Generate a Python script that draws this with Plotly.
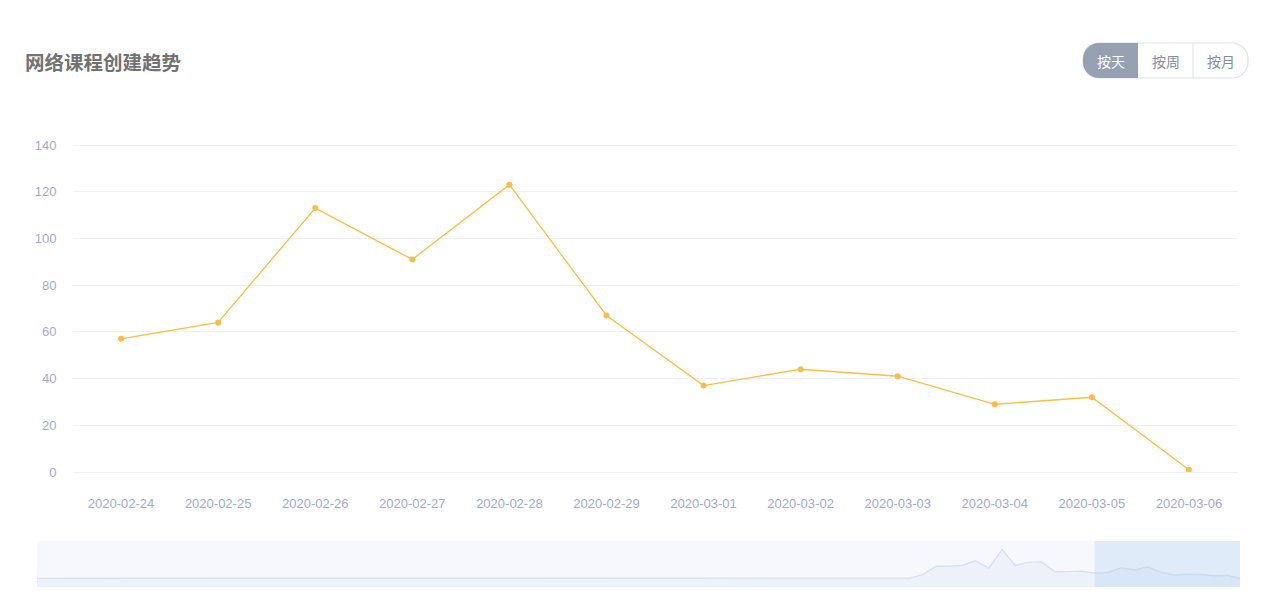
import plotly.graph_objects as go
import pandas as pd

W, H = 1266, 614

title_text = "网络课程创建趋势"
button_labels = ["按天", "按周", "按月"]

# main (zoomed) window: last 12 days
days = ["2020-02-24", "2020-02-25", "2020-02-26", "2020-02-27", "2020-02-28", "2020-02-29",
        "2020-03-01", "2020-03-02", "2020-03-03", "2020-03-04", "2020-03-05", "2020-03-06"]
daily_counts = [57, 64, 113, 91, 123, 67, 37, 44, 41, 29, 32, 1]

# earlier days shown only in the overview slider (2019-12-06 .. 2020-02-23)
overview_start = "2019-12-06"
earlier_counts = [0, 0, 0, 0, 0, 0, 0, 0, 0, 0,
                  0, 0, 0, 0, 0, 0, 0, 0, 0, 0,
                  0, 0, 0, 0, 0, 0, 0, 0, 0, 0,
                  0, 0, 0, 0, 0, 0, 0, 0, 1, 1,
                  2, 2, 2, 1, 1, 1, 1, 1, 1, 1,
                  1, 1, 1, 1, 1, 1, 1, 1, 1, 2,
                  2, 3, 3, 2, 1, 0, 3, 40, 130, 132,
                  140, 190, 112, 310, 140, 172, 178, 70, 72, 78]

y_ticks = [0, 20, 40, 60, 80, 100, 120, 140]
y_max = 140

# ---------------------------------------------------------------
def px(x):
    return x / W


def py(y):
    return 1 - y / H


overview_counts = earlier_counts + daily_counts
overview_dates = [d.strftime("%Y-%m-%d") for d in
                  pd.date_range(overview_start, periods=len(overview_counts), freq="D")]
vmax = max(overview_counts)
vmin = min(overview_counts)
pad = (vmax - vmin) * 0.3
ov_lo, ov_hi = vmin - pad, vmax + pad

ORANGE = "#fdbd42"
TICK = "#a3a9d4"
GRID = "#eef0f5"

fig = go.Figure()

fig.add_trace(go.Scatter(
    x=days, y=daily_counts, mode="lines+markers",
    line=dict(color=ORANGE, width=1.3),
    marker=dict(color=ORANGE, size=6),
    xaxis="x", yaxis="y", hoverinfo="x+y"))

# overview shadow (area down to slider bottom)
fig.add_trace(go.Scatter(
    x=overview_dates, y=[ov_lo] * len(overview_dates), mode="lines",
    line=dict(width=0, color="rgba(0,0,0,0)"), xaxis="x2", yaxis="y2",
    hoverinfo="skip"))
fig.add_trace(go.Scatter(
    x=overview_dates, y=overview_counts, mode="lines",
    line=dict(color="#d6e0ef", width=1.4), fill="tonexty",
    fillcolor="#edf1f9", xaxis="x2", yaxis="y2", hoverinfo="skip"))


def path_px(cmds):
    out = []
    for c in cmds:
        if isinstance(c, str):
            out.append(c)
        else:
            out.append(f"{px(c[0]):.6f},{py(c[1]):.6f}")
    return " ".join(out)


# button group geometry (pixels)
bx0, bx1, by0, by1 = 1083, 1248, 43, 78
r = 16
k = 0.5523
ym = (by0 + by1) / 2
seg = (bx1 - bx0) / 3

outer = path_px([
    "M", (bx0 + r, by0), "L", (bx1 - r, by0),
    "C", (bx1 - r + k * r, by0), (bx1, by0 + r - k * r), (bx1, by0 + r),
    "L", (bx1, by1 - r),
    "C", (bx1, by1 - r + k * r), (bx1 - r + k * r, by1), (bx1 - r, by1),
    "L", (bx0 + r, by1),
    "C", (bx0 + r - k * r, by1), (bx0, by1 - r + k * r), (bx0, by1 - r),
    "L", (bx0, by0 + r),
    "C", (bx0, by0 + r - k * r), (bx0 + r - k * r, by0), (bx0 + r, by0), "Z"])

active = path_px([
    "M", (bx0 + seg, by0), "L", (bx0 + r, by0),
    "C", (bx0 + r - k * r, by0), (bx0, by0 + r - k * r), (bx0, by0 + r),
    "L", (bx0, by1 - r),
    "C", (bx0, by1 - r + k * r), (bx0 + r - k * r, by1), (bx0 + r, by1),
    "L", (bx0 + seg, by1), "Z"])

shapes = [
    # slider background
    dict(type="rect", xref="paper", yref="paper", x0=px(37), x1=px(1240),
         y0=py(587), y1=py(541), fillcolor="#f6f8fc", line=dict(width=0), layer="below"),
    # selected window on slider
    dict(type="rect", xref="x2", yref="paper", x0=days[0], x1=days[-1],
         y0=py(587), y1=py(541), fillcolor="rgba(176,208,243,0.33)",
         line=dict(width=0), layer="above"),
    # buttons
    dict(type="path", xref="paper", yref="paper", path=outer,
         fillcolor="white", line=dict(color="#dde2ee", width=1.2)),
    dict(type="path", xref="paper", yref="paper", path=active,
         fillcolor="#95a0b3", line=dict(width=0)),
    dict(type="line", xref="paper", yref="paper", x0=px(bx0 + 2 * seg), x1=px(bx0 + 2 * seg),
         y0=py(by0), y1=py(by1), line=dict(color="#dde2ee", width=1)),
]

annotations = [
    dict(text=f"<b>{title_text}</b>", xref="paper", yref="paper", x=px(23), y=py(61),
         xanchor="left", yanchor="middle", showarrow=False,
         font=dict(family="Noto Sans CJK SC", size=19.5, color="#727272")),
]
for i, lab in enumerate(button_labels):
    annotations.append(dict(
        text=lab, xref="paper", yref="paper", x=px(bx0 + seg * (i + 0.5)), y=py(ym),
        xanchor="center", yanchor="middle", showarrow=False,
        font=dict(family="Noto Sans CJK SC", size=14,
                  color="white" if i == 0 else "#838da2")))

# headroom of a few pixels so that the top gridline (140) is drawn
unit_px = (472 - 145) / y_max
head_px = 4
y_top = y_max + head_px / unit_px
top_px = 145 - head_px

fig.update_layout(
    width=W, height=H, autosize=False, margin=dict(l=0, r=0, t=0, b=0, pad=0, autoexpand=False),
    paper_bgcolor="white", plot_bgcolor="white", showlegend=False,
    font=dict(family="Liberation Sans, Arial, sans-serif"),
    shapes=shapes, annotations=annotations,
    xaxis=dict(domain=[px(72.5), px(1237.5)], type="category", range=[-0.5, len(days) - 0.5],
               showgrid=False, showline=True, linecolor=GRID, linewidth=1, ticks="",
               tickfont=dict(size=13, color=TICK), ticklabelstandoff=19, fixedrange=True,
               anchor="y", automargin=False),
    yaxis=dict(domain=[py(472), py(top_px)], range=[0, y_top], tickvals=y_ticks,
               showgrid=True, gridcolor=GRID, gridwidth=1, zeroline=False, showline=False,
               ticks="", tickfont=dict(size=13, color=TICK), ticklabelstandoff=15,
               fixedrange=True, anchor="x", automargin=False),
    xaxis2=dict(domain=[px(37), px(1240)], type="date",
                range=[overview_dates[0], overview_dates[-1]], visible=False,
                anchor="y2", fixedrange=True, automargin=False),
    yaxis2=dict(domain=[py(587), py(541)], range=[ov_lo, ov_hi], visible=False,
                anchor="x2", fixedrange=True, automargin=False),
)

fig.write_html("out.html", config={"displayModeBar": False},
               post_script="document.body.style.margin='0';document.body.style.overflow='hidden';")
